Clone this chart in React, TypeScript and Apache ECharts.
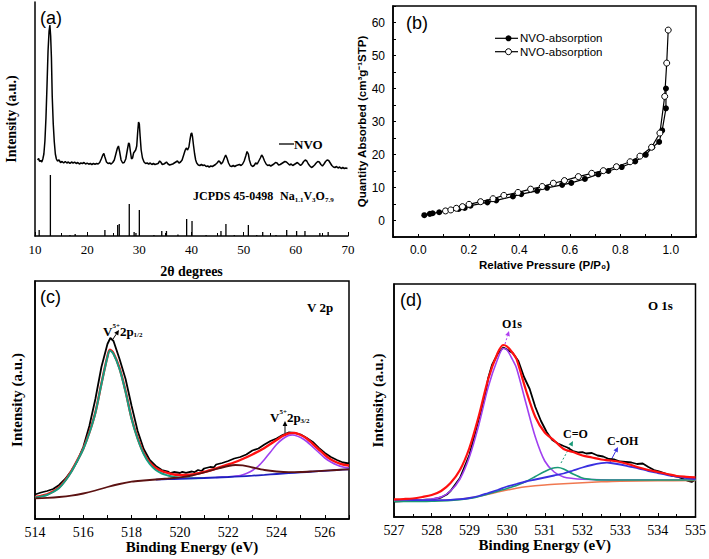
import React, { useEffect, useRef } from 'react';
import * as echarts from 'echarts';

const SERIF = '"Liberation Serif", "Times New Roman", serif';
const SANS = '"Liberation Sans", Arial, sans-serif';

// ---------- (a) XRD ----------
const xrdPattern: number[][] = [
  [10.5,76],[10.7,77.5],[10.9,74.5],[11.1,75.5],[11.3,74],[11.5,77],[11.7,82],[11.9,95],[12.1,118],[12.3,150],[12.5,185],[12.7,205],[12.85,211],[13.0,200],[13.15,178],[13.3,140],[13.5,112],[13.7,94],[13.9,82],[14.1,77],[14.3,75],[14.6,76],[14.9,73.5],[15.2,74.5],[15.5,73],[15.8,74.5],[16.1,73],[16.4,74],[16.7,72.5],[17.0,74],[17.3,73],[17.6,73.8],[17.9,72.5],[18.2,73.5],[18.5,72],[18.8,73],[19.1,72.5],[19.4,73.5],[19.7,72],[20.0,72.8],[20.3,71.8],[20.6,72.5],[20.9,71.5],[21.2,72.5],[21.5,71.8],[21.8,72.5],[22.1,72],[22.4,73.5],[22.7,77],[23.0,81],[23.2,82.5],[23.4,79],[23.7,74],[24.0,72.5],[24.3,73],[24.6,72],[24.9,73.5],[25.2,76],[25.5,82],[25.8,88],[26.0,90],[26.2,85],[26.5,76],[26.8,73],[27.1,73.5],[27.4,77],[27.7,86],[27.95,93],[28.1,92],[28.3,84],[28.5,77],[28.7,78],[28.9,83],[29.1,84.5],[29.3,86],[29.5,90],[29.7,105],[29.85,114],[30.0,112],[30.15,100],[30.35,86],[30.6,78],[30.9,74],[31.2,72.5],[31.5,73],[31.8,72],[32.1,73],[32.4,71.5],[32.7,72.5],[33.0,71.5],[33.3,72],[33.6,72.5],[33.9,75],[34.1,74],[34.4,71.5],[34.7,72],[35.0,73],[35.2,74],[35.5,72],[35.8,71],[36.1,71.5],[36.4,72],[36.7,73],[37.0,74],[37.3,75],[37.6,73],[37.9,74],[38.2,76],[38.5,81],[38.8,86],[39.0,88],[39.25,86],[39.5,89],[39.7,96],[39.9,102],[40.05,103],[40.2,99],[40.4,90],[40.6,82],[40.8,76],[41.0,73],[41.3,71],[41.6,70.5],[41.9,71.5],[42.2,70.5],[42.5,71],[42.8,69.5],[43.1,70],[43.4,69],[43.7,70],[44.0,69.5],[44.3,70.5],[44.6,71.5],[44.9,73],[45.2,75],[45.4,74.5],[45.7,72],[46.0,74],[46.3,78],[46.55,81],[46.8,78],[47.1,73],[47.4,70],[47.7,69.5],[48.0,70.5],[48.3,69.5],[48.6,70.5],[48.9,71],[49.2,71.5],[49.5,70.5],[49.8,72],[50.1,75],[50.4,80],[50.65,84.5],[50.9,82],[51.1,76],[51.4,71],[51.7,69.5],[52.0,70.5],[52.3,73],[52.6,72],[52.9,75],[53.2,78],[53.45,81],[53.7,79],[54.0,75],[54.3,72],[54.6,70.5],[54.9,71],[55.2,70],[55.5,71],[55.8,72],[56.1,73.5],[56.4,73],[56.7,71],[57.0,71.5],[57.3,72.5],[57.6,73.5],[57.9,74.5],[58.2,74],[58.5,72.5],[58.8,71],[59.1,72],[59.4,70.5],[59.7,71.5],[60.0,72.5],[60.3,73.5],[60.6,72],[60.9,70.5],[61.2,72],[61.5,74.5],[61.8,76],[62.1,75],[62.4,72],[62.7,70],[63.0,68.5],[63.3,69.5],[63.6,71],[63.9,73],[64.2,74.5],[64.5,74],[64.8,71.5],[65.1,70],[65.4,72],[65.7,74.5],[66.0,76],[66.3,75.5],[66.6,73],[66.9,70.5],[67.2,69],[67.5,68.5],[67.8,69.5],[68.1,68],[68.4,69],[68.7,67.5],[69.0,68.5],[69.3,67.5],[69.6,68],[69.9,67.5]
];
const jcpdsSticks: number[][] = [
  [10.8,6],[12.95,61],[16.7,1],[17.7,2],[23.4,6],[25.85,11],[26.15,12],[28.07,32],[29.0,4],[29.35,3],[30.0,26],[32.8,1],[34.3,5],[35.2,5],[37.4,1.5],[39.07,17],[40.1,15],[42.8,1],[45.65,5],[46.6,12],[48.2,1],[50.9,11],[52.5,1],[53.65,4],[56.2,1],[58.25,6],[60.15,5],[61.75,5],[64.6,3],[66.2,4]
];
const xrdTickRange = { min: 10, max: 70, step: 10 };

// ---------- (b) N2 isotherm ----------
const adsorption: number[][] = [
  [0.024,1.6],[0.046,2.0],[0.057,2.2],[0.083,2.5],[0.16,3.5],[0.184,3.8],[0.207,4.5],[0.274,5.5],[0.309,6.1],[0.375,7.3],[0.408,8.0],[0.471,9.0],[0.51,9.9],[0.57,10.8],[0.606,11.4],[0.66,12.6],[0.713,14.0],[0.753,15.0],[0.806,16.2],[0.859,17.9],[0.901,19.9],[0.927,22.2],[0.954,23.8],[0.966,27.3],[0.981,34.0],[0.981,40.0]
];
const desorption: number[][] = [
  [0.108,2.9],[0.129,3.2],[0.151,3.7],[0.175,4.2],[0.201,4.9],[0.247,5.7],[0.296,6.6],[0.339,7.6],[0.395,8.5],[0.445,9.5],[0.491,10.3],[0.535,11.3],[0.579,12.1],[0.634,13.3],[0.687,14.3],[0.733,15.1],[0.785,16.3],[0.839,17.8],[0.878,19.5],[0.924,22.2],[0.957,26.5],[0.976,37.6],[0.984,47.7],[0.99,57.7]
];

// ---------- (c) V 2p ----------
const v2pRaw: number[][] = [
  [514,24.5],[514.25,26.5],[514.5,28],[514.75,30],[515,34],[515.25,40],[515.5,48],[515.75,58],[516,72],[516.25,93],[516.5,120],[516.75,152],[517,175],[517.12,181],[517.25,178],[517.5,160],[517.75,140],[518,113],[518.25,88],[518.5,70],[518.75,59],[519,53],[519.25,49],[519.5,47.5],[519.6,45.8],[519.75,47],[520,46],[520.1,47.2],[520.25,46.2],[520.5,47.5],[520.6,46.8],[520.75,49],[520.9,48],[521,50.5],[521.25,52],[521.4,51.5],[521.5,54.5],[521.75,56],[522,58],[522.25,60.5],[522.5,62],[522.75,64.5],[523,68.5],[523.25,70.5],[523.5,74.5],[523.75,78],[524,80.5],[524.25,84],[524.5,86.5],[524.75,86],[525,84.5],[525.25,81],[525.5,77],[525.75,71],[526,66],[526.25,62],[526.5,59],[526.75,56.5],[527,55.5]
];
const v2pEnvelope: number[][] = [
  [514,22.1],[514.25,23.1],[514.5,24.6],[514.75,27.6],[515,31.6],[515.25,38.6],[515.5,47.6],[515.75,58.6],[516,70.6],[516.25,86.6],[516.5,106.6],[516.75,135.6],[517,162.8],[517.1,169.3],[517.25,165.8],[517.5,150.8],[517.75,127.8],[518,100.8],[518.25,81],[518.5,66],[518.75,56.5],[519,51],[519.25,47.8],[519.5,46],[519.75,44.5],[520,44],[520.5,44.5],[521,47],[521.5,50.5],[522,54.5],[522.5,59],[523,64.5],[523.5,71],[524,79],[524.25,83],[524.5,85.5],[524.75,86],[525,84],[525.25,80.5],[525.5,75],[525.75,69.5],[526,64],[526.25,59.5],[526.5,56.5],[526.75,54.5],[527,53.5]
];
const v2p12: number[][] = [
  [514,21.5],[514.25,22.5],[514.5,24],[514.75,27],[515,31],[515.25,38],[515.5,47],[515.75,58],[516,70],[516.25,86],[516.5,106],[516.75,135],[517,162],[517.1,168.5],[517.25,165],[517.5,150],[517.75,127],[518,100],[518.25,80],[518.5,65],[518.75,55],[519,49],[519.25,45.5],[519.5,43.5],[519.75,42],[520,41],[520.5,40.8],[521,41.0]
];
const v2p32: number[][] = [
  [521.5,41.5],[522,42.2],[522.5,43.5],[522.75,45.5],[523,48.5],[523.25,53],[523.5,59.5],[523.75,67],[524,74.5],[524.25,80],[524.5,83.5],[524.65,84],[524.75,83.8],[525,81.5],[525.25,77.5],[525.5,72],[525.75,66.5],[526,61],[526.25,57],[526.5,54],[526.75,52],[527,51]
];
const v2pSatellite: number[][] = [
  [514,20.7],[514.5,21.2],[515,22],[515.5,23.3],[516,25.5],[516.5,28.5],[517,32],[517.5,35],[518,37.3],[518.5,38.5],[519,39.5],[519.5,40.5],[520,41.6],[520.5,43.5],[521,46.5],[521.5,50],[522,53],[522.3,54],[522.6,53.6],[523,51.5],[523.5,49],[524,47.5],[524.5,46.8],[525,47],[525.5,47.6],[526,48.3],[526.5,49],[527,49.7]
];
const v2pBackground: number[][] = [
  [519,39.3],[519.5,39.8],[520,40.2],[520.5,40.6],[521,41.0],[521.5,41.5],[522,42],[522.5,42.6],[523,43.3],[523.5,44.1],[524,45],[524.5,45.8],[525,46.6],[525.5,47.4],[526,48.2],[526.5,49],[527,49.7]
];

// ---------- (d) O 1s ----------
const o1sRaw: number[][] = [
  [527,15.5],[527.25,16],[527.5,16.3],[527.75,17],[528,17.5],[528.25,19.5],[528.4,22.5],[528.5,26],[528.75,39],[529,62],[529.25,98],[529.4,118],[529.5,139],[529.6,152],[529.75,163],[529.9,169.5],[530,167.5],[530.15,164],[530.3,156],[530.45,140],[530.6,128],[530.75,110],[530.9,96],[531.05,85],[531.2,77],[531.35,73.5],[531.5,71],[531.6,69.5],[531.75,66],[531.9,64.5],[532,64.8],[532.1,63.5],[532.25,64],[532.4,61.5],[532.55,60.5],[532.7,58],[532.85,57.5],[533,55.5],[533.15,55],[533.3,54.5],[533.45,53],[533.6,53.5],[533.75,50],[533.9,47],[534.05,45.5],[534.2,43.5],[534.35,41.5],[534.5,40.5],[534.65,38.5],[534.8,36],[534.9,35],[535,37.5]
];
const o1sEnvelope: number[][] = [
  [527,17.7],[527.25,18],[527.5,18.5],[527.75,20],[528,22],[528.25,26],[528.5,34],[528.75,47],[529,69],[529.25,101],[529.5,138],[529.75,164],[529.9,172],[530,170.5],[530.15,164],[530.25,158],[530.5,127],[530.75,100],[531,84.5],[531.25,76.5],[531.5,68],[531.75,65],[532,61.5],[532.25,59.5],[532.5,57.5],[532.75,56.5],[533,55],[533.25,52.5],[533.5,49.5],[533.75,47],[534,45],[534.25,43],[534.5,41],[534.75,40.2],[535,39.7]
];
const o1sMain: number[][] = [
  [527,16.5],[527.5,16.8],[528,18],[528.25,20],[528.5,26],[528.75,38],[529,60],[529.25,92],[529.5,130],[529.75,158],[529.9,168.5],[530,167],[530.15,157],[530.25,149],[530.5,114],[530.75,80],[531,56],[531.25,45],[531.5,40],[531.75,38.5],[532,37.8],[532.5,37.2],[533,37],[534,37],[535,37]
];
const o1sCO: number[][] = [
  [527,15.5],[527.5,15.5],[528,15.8],[528.5,16.5],[529,18.5],[529.25,20.5],[529.5,23],[529.75,25.8],[530,28.5],[530.25,31.5],[530.5,35.5],[530.75,40.5],[531,45.5],[531.2,48.8],[531.35,49.5],[531.5,48],[531.75,43],[532,39],[532.25,37.5],[532.5,37],[533,37],[534,37],[535,37]
];
const o1sCOH: number[][] = [
  [527,17.2],[527.5,17],[528,16.8],[528.5,17.2],[528.75,17.8],[529,19],[529.25,21],[529.5,24],[529.75,27],[530,30.5],[530.25,33],[530.5,35.5],[530.75,37.5],[531,39.5],[531.25,41.5],[531.5,43.5],[531.75,46.5],[532,49.5],[532.25,52],[532.5,53.8],[532.65,54.3],[532.75,54],[533,52.5],[533.25,50.5],[533.5,48.5],[533.75,46],[534,44],[534.25,42],[534.5,40.5],[534.75,39],[535,38]
];
const o1sBackground: number[][] = [
  [527,17],[527.5,16.8],[528,16.5],[528.5,17],[528.75,17.8],[529,19],[529.25,20.8],[529.5,22.8],[529.75,25],[530,27],[530.25,28.8],[530.5,30.2],[531,32],[531.5,33.2],[532,34.3],[532.5,35.2],[533,35.8],[534,36.2],[535,36.5]
];

const measureCtx = typeof document !== 'undefined' ? document.createElement('canvas').getContext('2d') : null;
function textWidth(t: string, size: number, weight: string, family: string) {
  if (!measureCtx) return t.length * size * 0.5;
  measureCtx.font = `${weight} ${size}px ${family}`;
  return measureCtx.measureText(t).width;
}
type Part = { t: string; s: number; dy?: number; w?: string; f?: string };
function runs(x0: number, yc: number, parts: Part[]) {
  let x = x0;
  return parts.map((p) => {
    const w = p.w || 'bold';
    const f = p.f || SERIF;
    const el = {
      type: 'text', x, y: yc + (p.dy || 0), silent: true,
      style: { text: p.t, fill: '#000', fontSize: p.s, fontWeight: w, fontFamily: f, align: 'left', verticalAlign: 'middle' },
    };
    x += textWidth(p.t, p.s, w, f);
    return el;
  });
}
function label(x: number, y: number, t: string, size: number, weight = 'normal', family = SANS) {
  return { type: 'text', x, y, silent: true, style: { text: t, fill: '#000', fontSize: size, fontWeight: weight, fontFamily: family, align: 'left', verticalAlign: 'middle' } };
}
function arrow(x1: number, y1: number, x2: number, y2: number, color: string, dashed = false) {
  const dx = x2 - x1, dy = y2 - y1, L = Math.hypot(dx, dy), ux = dx / L, uy = dy / L;
  const hl = 5, hw = 2.4;
  const bx = x2 - ux * hl, by = y2 - uy * hl;
  return [
    { type: 'line', silent: true, shape: { x1, y1, x2: bx, y2: by }, style: { stroke: color, lineWidth: 1, lineDash: dashed ? [2, 2] : null } },
    { type: 'polygon', silent: true, shape: { points: [[x2, y2], [bx - uy * hw, by + ux * hw], [bx + uy * hw, by - ux * hw]] }, style: { fill: color } },
  ];
}

const black = '#000';
const axisLine = { show: true, onZero: false, lineStyle: { color: black, width: 1.5 } };
const tickIn = { show: true, inside: true, length: 4, lineStyle: { color: black, width: 1 } };
const noTick = { show: false };
const serifName = (size: number) => ({ fontFamily: SERIF, fontWeight: 'bold', fontSize: size, color: black });
const sansName = (size: number) => ({ fontFamily: SANS, fontWeight: 'bold', fontSize: size, color: black });

function line(idx: number, data: number[][], color: string, width: number, smooth: boolean | number, z = 2) {
  return { type: 'line', xAxisIndex: idx, yAxisIndex: idx, data, symbol: 'none', showSymbol: false, smooth, silent: true, z, lineStyle: { color, width } };
}

export default function App() {
  const ref = useRef<HTMLDivElement>(null);
  useEffect(() => {
    if (!ref.current) return;
    const chart = echarts.init(ref.current, null, { renderer: 'svg' });
    const graphic: any[] = [
      label(40, 18, '(a)', 18),
      label(406, 23, '(b)', 18),
      label(40, 297, '(c)', 18),
      label(400, 300, '(d)', 18),
      { type: 'line', silent: true, shape: { x1: 279, y1: 144, x2: 294, y2: 144 }, style: { stroke: black, lineWidth: 1.3 } },
      label(294, 144, 'NVO', 13, 'bold', SERIF),
      label(193, 196, 'JCPDS 45-0498', 12, 'bold', SERIF),
      ...runs(280, 196, [
        { t: 'Na', s: 12 }, { t: '1.1', s: 7, dy: 4 }, { t: 'V', s: 12 }, { t: '3', s: 7, dy: 4 }, { t: 'O', s: 12 }, { t: '7.9', s: 7, dy: 4 },
      ]),
      { type: 'line', silent: true, shape: { x1: 495, y1: 38.3, x2: 518, y2: 38.3 }, style: { stroke: black, lineWidth: 1.2 } },
      { type: 'circle', silent: true, shape: { cx: 508.5, cy: 38.3, r: 3 }, style: { fill: black } },
      label(520, 38.3, 'NVO-absorption', 11.5),
      { type: 'line', silent: true, shape: { x1: 495, y1: 51.7, x2: 518, y2: 51.7 }, style: { stroke: black, lineWidth: 1.2 } },
      { type: 'circle', silent: true, shape: { cx: 508.5, cy: 51.7, r: 3 }, style: { fill: '#fff', stroke: black, lineWidth: 1 } },
      label(520, 51.7, 'NVO-absorption', 11.5),
      label(307, 307, 'V 2p', 13, 'bold', SERIF),
      ...runs(103, 331, [{ t: 'V', s: 13 }, { t: '5+', s: 7, dy: -5 }, { t: '2p', s: 13 }, { t: '1/2', s: 7, dy: 4 }]),
      ...arrow(113, 339, 119, 330, black),
      ...runs(270, 417, [{ t: 'V', s: 13 }, { t: '5+', s: 7, dy: -5 }, { t: '2p', s: 13 }, { t: '3/2', s: 7, dy: 4 }]),
      ...arrow(285, 433, 285, 421, black),
      label(648, 305.5, 'O 1s', 13, 'bold', SERIF),
      label(502, 324, 'O1s', 12, 'bold', SERIF),
      ...arrow(505, 344, 509, 331, '#b040f0', true),
      label(563, 434, 'C=O', 12, 'bold', SERIF),
      ...arrow(561, 463, 573, 441, '#1a9a78', true),
      label(607, 441, 'C-OH', 12, 'bold', SERIF),
      ...arrow(610, 462, 618, 447, '#3a30e0', false),
    ];

    const option: any = {
      animation: false,
      backgroundColor: '#fff',
      grid: [
        { left: 35, top: 2, width: 313, height: 234, show: false },
        { left: 393, top: 6, width: 303, height: 231, show: true, borderColor: black, borderWidth: 1.5 },
        { left: 35, top: 281, width: 314, height: 238, show: true, borderColor: black, borderWidth: 1.5 },
        { left: 394, top: 284, width: 305, height: 233, show: true, borderColor: black, borderWidth: 1.5 },
      ],
      xAxis: [
        {
          gridIndex: 0, type: 'value', min: xrdTickRange.min, max: xrdTickRange.max, interval: xrdTickRange.step,
          axisLine, axisTick: tickIn, minorTick: { show: true, splitNumber: 2, length: 3, lineStyle: { color: black } },
          splitLine: { show: false }, minorSplitLine: { show: false },
          axisLabel: { color: black, fontFamily: SERIF, fontSize: 13, margin: 7 },
          name: '2θ degrees', nameLocation: 'middle', nameGap: 28, nameTextStyle: serifName(14),
        },
        {
          gridIndex: 1, type: 'value', min: -0.1, max: 1.1, interval: 0.1,
          axisLine, axisTick: { ...tickIn, length: 3 }, splitLine: { show: false },
          axisLabel: {
            color: black, fontFamily: SANS, fontSize: 12, margin: 7,
            formatter: (v: number) => { const k = Math.round(v * 10); return k >= 0 && k <= 10 && k % 2 === 0 ? (k / 10).toFixed(1) : ''; },
          },
          name: 'Relative Pressure (P/P₀)', nameLocation: 'middle', nameGap: 22, nameTextStyle: sansName(11.5),
        },
        {
          gridIndex: 2, type: 'value', min: 514, max: 527, interval: 2,
          axisLine, axisTick: tickIn, minorTick: { show: true, splitNumber: 2, length: 4, lineStyle: { color: black } },
          splitLine: { show: false }, minorSplitLine: { show: false },
          axisLabel: { color: black, fontFamily: SERIF, fontSize: 14, margin: 6, showMaxLabel: false },
          name: 'Binding Energy (eV)', nameLocation: 'middle', nameGap: 19, nameTextStyle: serifName(15),
        },
        {
          gridIndex: 3, type: 'value', min: 527, max: 535, interval: 1,
          axisLine, axisTick: tickIn, minorTick: { show: true, splitNumber: 2, length: 3, lineStyle: { color: black } },
          splitLine: { show: false }, minorSplitLine: { show: false },
          axisLabel: { color: black, fontFamily: SERIF, fontSize: 14, margin: 6 },
          name: 'Binding Energy (eV)', nameLocation: 'middle', nameGap: 20, nameTextStyle: serifName(15),
        },
      ],
      yAxis: [
        {
          gridIndex: 0, type: 'value', min: 0, max: 234, axisLine, axisTick: noTick, axisLabel: { show: false }, splitLine: { show: false },
          name: 'Intensity (a.u.)', nameLocation: 'middle', nameGap: 17, nameTextStyle: serifName(14),
        },
        {
          gridIndex: 1, type: 'value', min: -5, max: 65, interval: 5, axisLine, axisTick: { ...tickIn, length: 3 }, splitLine: { show: false },
          axisLabel: { color: black, fontFamily: SANS, fontSize: 12, margin: 8, formatter: (v: number) => (Math.round(v) % 10 === 0 ? String(Math.round(v)) : '') },
          name: 'Quantity Absorbed (cm³g⁻¹STP)', nameLocation: 'middle', nameGap: 22, nameTextStyle: sansName(11.5),
        },
        {
          gridIndex: 2, type: 'value', min: 0, max: 238, axisLine, axisTick: noTick, axisLabel: { show: false }, splitLine: { show: false },
          name: 'Intensity (a.u.)', nameLocation: 'middle', nameGap: 11, nameTextStyle: serifName(15),
        },
        {
          gridIndex: 3, type: 'value', min: 0, max: 233, axisLine, axisTick: noTick, axisLabel: { show: false }, splitLine: { show: false },
          name: 'Intensity (a.u.)', nameLocation: 'middle', nameGap: 9, nameTextStyle: serifName(15),
        },
      ],
      series: [
        line(0, xrdPattern, black, 1.5, false),
        { type: 'bar', xAxisIndex: 0, yAxisIndex: 0, data: jcpdsSticks, barWidth: 1.3, silent: true, itemStyle: { color: black } },
        {
          type: 'line', xAxisIndex: 1, yAxisIndex: 1, data: adsorption, symbol: 'circle', symbolSize: 6, silent: true,
          lineStyle: { color: black, width: 1.2 }, itemStyle: { color: black },
        },
        {
          type: 'line', xAxisIndex: 1, yAxisIndex: 1, data: desorption, symbol: 'circle', symbolSize: 6, silent: true,
          lineStyle: { color: black, width: 1.2 }, itemStyle: { color: '#fff', borderColor: black, borderWidth: 1 },
        },
        line(2, v2pRaw, black, 1.8, false, 2),
        line(2, v2pEnvelope, '#ff1010', 2.4, 0.3, 3),
        line(2, v2p32, '#a040f0', 1.6, 0.3, 4),
        line(2, v2p12, '#169e82', 2, 0.3, 4),
        line(2, v2pBackground, '#2020c0', 1.8, 0.3, 5),
        line(2, v2pSatellite, '#5c1212', 1.8, 0.3, 5),
        line(3, o1sRaw, black, 1.8, false, 2),
        line(3, o1sMain, '#a040f0', 1.6, 0.3, 3),
        line(3, o1sBackground, '#f07850', 1.6, 0.3, 3),
        line(3, o1sCO, '#1a9a78', 1.6, 0.3, 4),
        line(3, o1sCOH, '#3a30e0', 1.8, 0.3, 4),
        line(3, o1sEnvelope, '#ff1010', 2.2, 0.3, 5),
      ],
      graphic,
    };
    chart.setOption(option);
    return () => chart.dispose();
  }, []);
  return <div ref={ref} style={{ position: 'fixed', left: 0, top: 0, width: 709, height: 559, background: '#fff' }} />;
}
